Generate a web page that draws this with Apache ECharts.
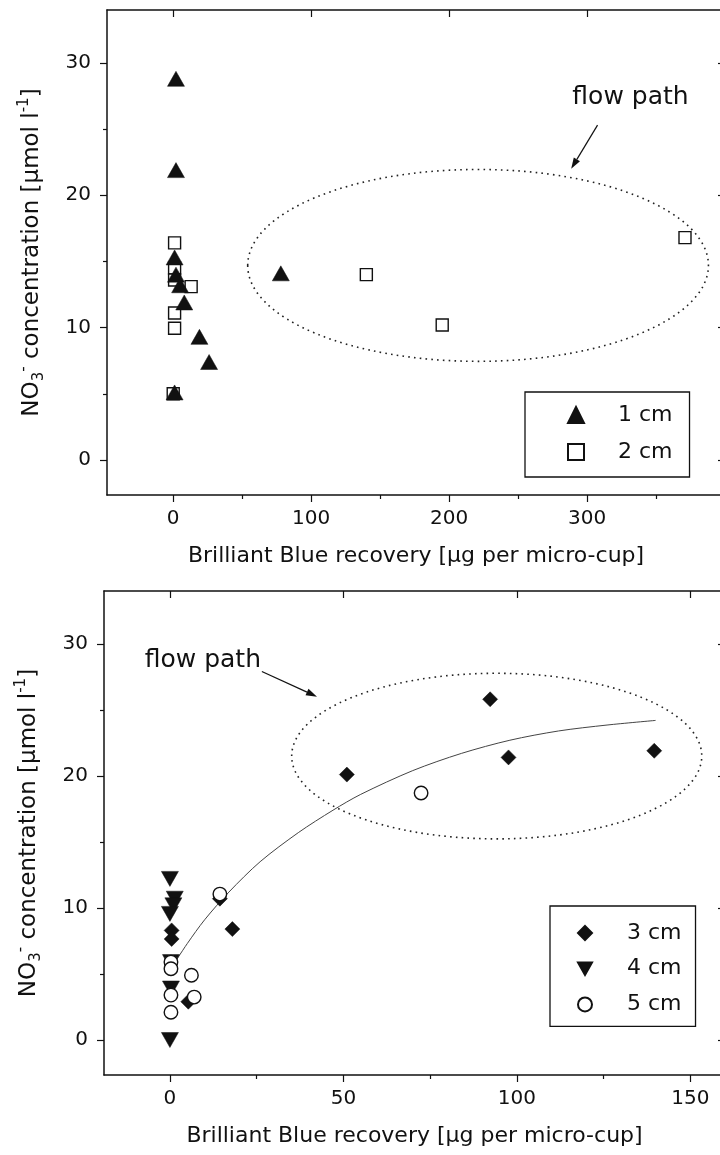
<!DOCTYPE html>
<html>
<head>
<meta charset="utf-8">
<title>NO3- concentration vs Brilliant Blue recovery</title>
<script src="https://cdn.jsdelivr.net/npm/echarts@6/dist/echarts.min.js"></script>
<style>
  html, body { margin: 0; padding: 0; background: #fff; overflow: hidden; }
  /* the right-hand frame line sits just past the page edge */
  #chart { width: 730px; height: 1155px; }
</style>
</head>
<body>
<div id="chart"></div>
<script>
// ---- tick values ----
const xTicksTop = [0, 100, 200, 300];
const xMinorTop = [50, 150, 250, 350];
const xTicksBottom = [0, 50, 100, 150];
const xMinorBottom = [25, 75, 125];
const yTicks = [0, 10, 20, 30];
const yMinor = [5, 15, 25];

// ---- upper panel: 1 cm and 2 cm depth ----
const recovery1cm = [2, 2, 1, 2, 5, 8, 19, 26, 78, 1];
const nitrate1cm  = [28.8, 21.9, 15.3, 14.0, 13.2, 11.9, 9.3, 7.4, 14.1, 5.1];
const recovery2cm = [1, 1, 1, 13, 1, 1, 0, 140, 195, 371];
const nitrate2cm  = [16.4, 14.5, 13.6, 13.1, 11.1, 9.95, 5.0, 14.0, 10.2, 16.8];

// ---- lower panel: 3, 4 and 5 cm depth ----
const recovery3cm = [0.5, 0.5, 18, 14.4, 5.3, 51, 92.3, 97.6, 139.6];
const nitrate3cm  = [8.3, 7.65, 8.4, 10.7, 2.9, 20.1, 25.8, 21.4, 21.9];
const recovery4cm = [0, 1.4, 1, 0, 0.3, 0.3, 0];
const nitrate4cm  = [12.2, 10.7, 10.2, 9.55, 5.9, 3.9, 0];
const recovery5cm = [14.4, 0.3, 0.3, 6.2, 0.3, 7, 0.3, 72.4];
const nitrate5cm  = [11.05, 5.9, 5.4, 4.9, 3.4, 3.25, 2.1, 18.7];

// fitted trend through the lower panel
const fitRecovery = [0.5, 5, 10, 17, 26, 37, 47, 55, 70, 84, 98, 112, 126, 140];
const fitNitrate  = [5.5, 7.3, 9.1, 11.2, 13.5, 15.7, 17.4, 18.6, 20.4, 21.7, 22.7, 23.4, 23.85, 24.2];

// "flow path" annotations, in data units of each panel
const flowTop = { center: [221, 14.7], radii: [167, 7.25], from: [307.6, 25.3], to: [288.5, 22.0], label: [331.5, 27.4] };
const flowBottom = { center: [94.2, 21.5], radii: [59.1, 6.27], from: [26.5, 27.9], to: [42.4, 26.0], label: [9.5, 28.7] };

const FONT = "'DejaVu Sans', sans-serif";
const INK = '#111';

const zip = (xs, ys) => xs.map((x, i) => [x, ys[i]]);

function xAxes(gridIndex, min, max, major, minor) {
  const base = { type: 'value', gridIndex, min, max, splitLine: { show: false } };
  return [
    Object.assign({}, base, {
      position: 'bottom',
      name: 'Brilliant Blue recovery [µg per micro-cup]',
      nameLocation: 'middle',
      nameGap: 50,
      nameTextStyle: { fontFamily: FONT, fontSize: 22, color: INK },
      axisLine: { show: true, onZero: false, lineStyle: { color: INK, width: 1.5 } },
      axisTick: { show: true, inside: false, length: 7, customValues: major, lineStyle: { color: INK, width: 1.2 } },
      axisLabel: { show: true, customValues: major, margin: 14, fontFamily: FONT, fontSize: 20, color: INK }
    }),
    Object.assign({}, base, {
      position: 'bottom',
      axisLine: { show: false, onZero: false },
      axisTick: { show: true, inside: false, length: 4, customValues: minor, lineStyle: { color: INK, width: 1.2 } },
      axisLabel: { show: false }
    }),
    Object.assign({}, base, {
      position: 'top',
      axisLine: { show: true, onZero: false, lineStyle: { color: INK, width: 1.5 } },
      axisTick: { show: true, inside: true, length: 7, customValues: major, lineStyle: { color: INK, width: 1.2 } },
      axisLabel: { show: false }
    })
  ];
}

function yAxes(gridIndex) {
  const base = { type: 'value', gridIndex, min: -2.65, max: 34, splitLine: { show: false } };
  return [
    Object.assign({}, base, {
      position: 'left',
      name: 'NO{sub|3}{sup|-} concentration [µmol l{sup|-1}]',
      nameLocation: 'middle',
      nameRotate: 90,
      nameGap: 60,
      nameTextStyle: {
        fontFamily: FONT, fontSize: 23, color: INK, lineHeight: 30,
        rich: {
          sub: { fontFamily: FONT, fontSize: 15, color: INK, lineHeight: 30, verticalAlign: 'bottom' },
          sup: { fontFamily: FONT, fontSize: 15, color: INK, lineHeight: 30, verticalAlign: 'top' }
        }
      },
      axisLine: { show: true, onZero: false, lineStyle: { color: INK, width: 1.5 } },
      axisTick: { show: true, inside: false, length: 7, customValues: yTicks, lineStyle: { color: INK, width: 1.2 } },
      axisLabel: { show: true, customValues: yTicks, margin: 16, fontFamily: FONT, fontSize: 20, color: INK }
    }),
    Object.assign({}, base, {
      position: 'left',
      axisLine: { show: false, onZero: false },
      axisTick: { show: true, inside: false, length: 4, customValues: yMinor, lineStyle: { color: INK, width: 1.2 } },
      axisLabel: { show: false }
    }),
    Object.assign({}, base, {
      position: 'right',
      axisLine: { show: true, onZero: false, lineStyle: { color: INK, width: 1.5 } },
      axisTick: { show: true, inside: true, length: 7, customValues: yTicks, lineStyle: { color: INK, width: 1.2 } },
      axisLabel: { show: false }
    })
  ];
}

// dotted ellipse + arrow + caption, placed through the panel's own scales
function flowPathSeries(ann, axisIndex) {
  return {
    type: 'custom',
    name: 'flow path',
    coordinateSystem: 'cartesian2d',
    xAxisIndex: axisIndex,
    yAxisIndex: axisIndex,
    silent: true,
    clip: false,
    z: 1,
    data: [ann.center],
    renderItem: function (params, api) {
      const c = api.coord(ann.center);
      const r = api.size(ann.radii);
      const p0 = api.coord(ann.from);
      const p1 = api.coord(ann.to);
      const t = api.coord(ann.label);
      const ang = Math.atan2(p1[1] - p0[1], p1[0] - p0[0]);
      const L = 11, W = 3.6;
      const bx = p1[0] - L * Math.cos(ang), by = p1[1] - L * Math.sin(ang);
      const nx = -Math.sin(ang) * W, ny = Math.cos(ang) * W;
      return {
        type: 'group',
        children: [
          {
            type: 'ellipse',
            shape: { cx: c[0], cy: c[1], rx: r[0], ry: r[1] },
            style: { fill: 'none', stroke: '#222', lineWidth: 1.6, lineDash: [1.6, 4.2] }
          },
          {
            type: 'line',
            shape: { x1: p0[0], y1: p0[1], x2: bx, y2: by },
            style: { stroke: INK, lineWidth: 1.2 }
          },
          {
            type: 'polygon',
            shape: { points: [[p1[0], p1[1]], [bx + nx, by + ny], [bx - nx, by - ny]] },
            style: { fill: INK }
          },
          {
            type: 'text',
            x: t[0],
            y: t[1],
            style: { text: 'flow path', fontFamily: FONT, fontSize: 25, fill: INK, align: 'center', verticalAlign: 'middle' }
          }
        ]
      };
    }
  };
}

const filled = { color: INK, borderColor: INK, borderWidth: 0.5, opacity: 1 };
const open = { color: '#fff', borderColor: INK, borderWidth: 1.4, opacity: 1 };

function legendText(gap) {
  return {
    fontFamily: FONT, fontSize: 22, color: INK, lineHeight: 22,
    rich: { t: { fontFamily: FONT, fontSize: 22, color: INK, lineHeight: 22, padding: [0, 0, 0, gap] } }
  };
}

const downTriangle = 'path://M0,0 L10,0 L5,9 Z';

const option = {
  animation: false,
  backgroundColor: '#fff',
  grid: [
    { left: 107, top: 10, width: 618, height: 485, containLabel: false },
    { left: 104, top: 591, width: 621, height: 484, containLabel: false }
  ],
  xAxis: [].concat(
    xAxes(0, -48, 400, xTicksTop, xMinorTop),
    xAxes(1, -19, 160, xTicksBottom, xMinorBottom)
  ),
  yAxis: [].concat(yAxes(0), yAxes(1)),
  legend: [
    {
      data: ['1 cm', '2 cm'],
      orient: 'vertical',
      left: 525, top: 392,
      padding: [12, 17, 14, 42],
      itemWidth: 16, itemHeight: 16, itemGap: 15,
      borderColor: INK, borderWidth: 1.3, backgroundColor: '#fff',
      selectedMode: false,
      textStyle: legendText(29),
      formatter: name => '{t|' + name + '}'
    },
    {
      data: ['3 cm', { name: '4 cm', icon: downTriangle }, '5 cm'],
      orient: 'vertical',
      left: 550, top: 906,
      padding: [16, 14, 11, 27],
      itemWidth: 14, itemHeight: 14, itemGap: 13.7,
      borderColor: INK, borderWidth: 1.3, backgroundColor: '#fff',
      selectedMode: false,
      textStyle: legendText(30),
      formatter: name => '{t|' + name + '}'
    }
  ],
  series: [
    flowPathSeries(flowTop, 0),
    {
      name: '2 cm', type: 'scatter', xAxisIndex: 0, yAxisIndex: 0, z: 2,
      symbol: 'rect', symbolSize: 12, itemStyle: open,
      data: zip(recovery2cm, nitrate2cm)
    },
    {
      name: '1 cm', type: 'scatter', xAxisIndex: 0, yAxisIndex: 0, z: 2,
      symbol: 'triangle', symbolSize: [17, 15], itemStyle: filled,
      data: zip(recovery1cm, nitrate1cm)
    },
    flowPathSeries(flowBottom, 3),
    {
      name: 'fit', type: 'line', xAxisIndex: 3, yAxisIndex: 3, z: 2,
      smooth: 0.3, symbol: 'none', silent: true,
      lineStyle: { color: '#444', width: 1 },
      data: zip(fitRecovery, fitNitrate)
    },
    {
      name: '3 cm', type: 'scatter', xAxisIndex: 3, yAxisIndex: 3, z: 3,
      symbol: 'diamond', symbolSize: 15, itemStyle: filled,
      data: zip(recovery3cm, nitrate3cm)
    },
    {
      name: '4 cm', type: 'scatter', xAxisIndex: 3, yAxisIndex: 3, z: 3,
      symbol: 'triangle', symbolRotate: 180, symbolSize: [17, 15], itemStyle: filled,
      data: zip(recovery4cm, nitrate4cm)
    },
    {
      name: '5 cm', type: 'scatter', xAxisIndex: 3, yAxisIndex: 3, z: 3,
      symbol: 'circle', symbolSize: 13.5, itemStyle: open,
      data: zip(recovery5cm, nitrate5cm)
    }
  ]
};

const chart = echarts.init(document.getElementById('chart'), null, { renderer: 'canvas' });
chart.setOption(option);
</script>
</body>
</html>
